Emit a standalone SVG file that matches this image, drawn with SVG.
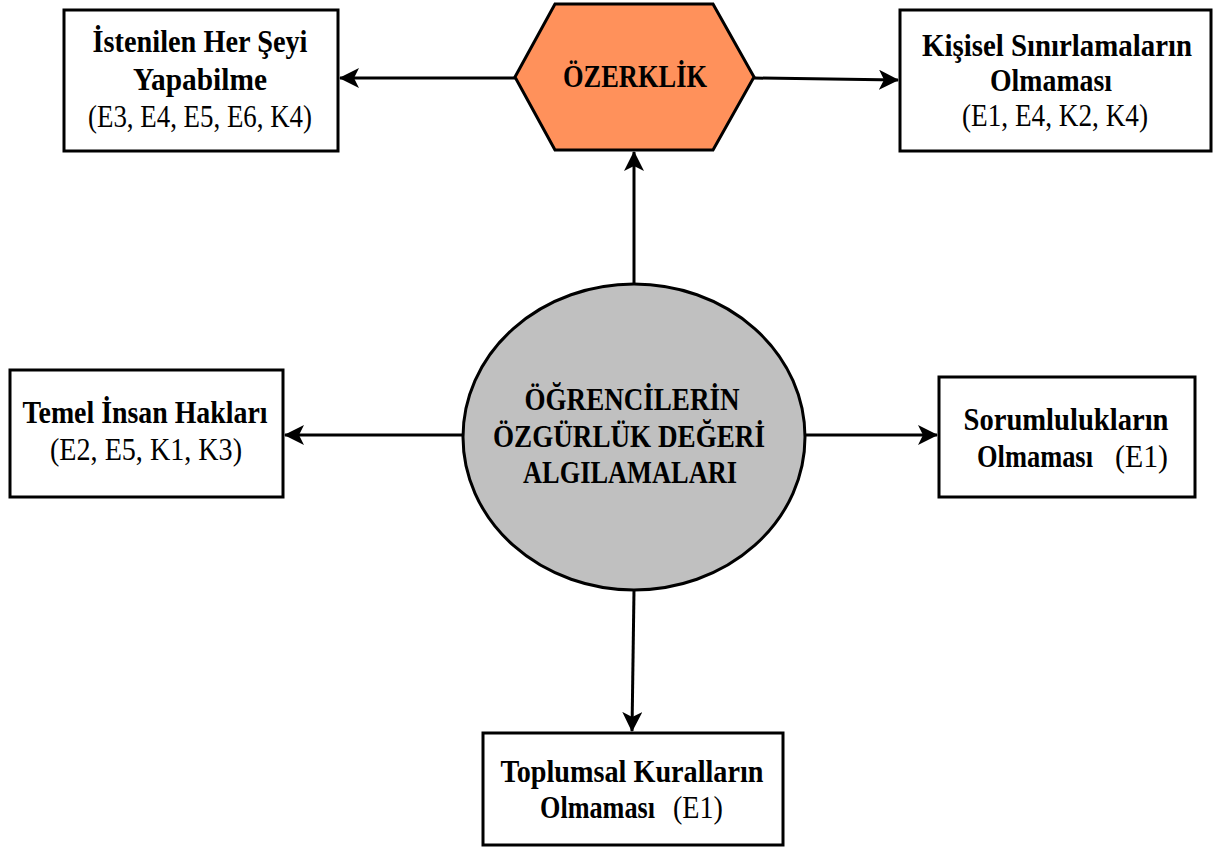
<svg xmlns="http://www.w3.org/2000/svg" width="1213" height="850" viewBox="0 0 1213 850">
<defs>
<style>
.box{fill:#fff;stroke:#000;stroke-width:3}
.t{font-family:"Liberation Serif","Times New Roman",serif;font-size:31px;text-anchor:middle;fill:#000}
.s{text-anchor:start}
.b{font-weight:bold}
.r{font-weight:normal}
.c{fill:none;stroke:#000;stroke-width:3;marker-end:url(#ah)}
</style>
<marker id="ah" viewBox="0 0 20 20" refX="19" refY="10" markerWidth="20" markerHeight="20" markerUnits="userSpaceOnUse" orient="auto">
<path d="M0,0 L20,10 L0,20 L5,10 z" fill="#000"/>
</marker>
</defs>
<rect width="1213" height="850" fill="#fff"/>
<g id="connectors">
<line class="c" x1="515" y1="78" x2="340" y2="78"/>
<line class="c" x1="754" y1="78" x2="898" y2="80"/>
<line class="c" x1="634" y1="284" x2="634" y2="152"/>
<line class="c" x1="463" y1="435" x2="285" y2="435"/>
<line class="c" x1="805" y1="435" x2="937" y2="435"/>
<line class="c" x1="634" y1="590" x2="632" y2="731"/>
</g>
<g id="n-istenilen">
<rect class="box" x="64" y="10" width="274" height="141"/>
<text class="t b" x="200" y="52" textLength="215" lengthAdjust="spacingAndGlyphs">İstenilen Her Şeyi</text>
<text class="t b" x="200" y="90" textLength="134" lengthAdjust="spacingAndGlyphs">Yapabilme</text>
<text class="t r" x="200" y="127" textLength="224" lengthAdjust="spacingAndGlyphs">(E3, E4, E5, E6, K4)</text>
</g>
<g id="n-ozerklik">
<polygon points="515,77 555,4 713,4 754,77 713,150 555,150" fill="#FF915B" stroke="#000" stroke-width="3"/>
<text class="t b" x="635" y="87" textLength="144" lengthAdjust="spacingAndGlyphs">ÖZERKLİK</text>
</g>
<g id="n-kisisel">
<rect class="box" x="900" y="10" width="311" height="141"/>
<text class="t b" x="1057" y="56" textLength="270" lengthAdjust="spacingAndGlyphs">Kişisel Sınırlamaların</text>
<text class="t b" x="1051" y="91" textLength="122" lengthAdjust="spacingAndGlyphs">Olmaması</text>
<text class="t r" x="1055" y="126" textLength="186" lengthAdjust="spacingAndGlyphs">(E1, E4, K2, K4)</text>
</g>
<g id="n-center">
<ellipse cx="634" cy="437" rx="171" ry="153" fill="#C0C0C0" stroke="#000" stroke-width="3"/>
<text class="t b" x="632" y="410" textLength="215" lengthAdjust="spacingAndGlyphs">ÖĞRENCİLERİN</text>
<text class="t b" x="629" y="447" textLength="272" lengthAdjust="spacingAndGlyphs">ÖZGÜRLÜK DEĞERİ</text>
<text class="t b" x="630" y="483" textLength="214" lengthAdjust="spacingAndGlyphs">ALGILAMALARI</text>
</g>
<g id="n-temel">
<rect class="box" x="10" y="370" width="273" height="127"/>
<text class="t b" x="145" y="423" textLength="245" lengthAdjust="spacingAndGlyphs">Temel İnsan Hakları</text>
<text class="t r" x="146" y="460" textLength="192" lengthAdjust="spacingAndGlyphs">(E2, E5, K1, K3)</text>
</g>
<g id="n-sorumluluk">
<rect class="box" x="939" y="377" width="256" height="120"/>
<text class="t b" x="1066" y="430" textLength="205" lengthAdjust="spacingAndGlyphs">Sorumlulukların</text>
<text class="t s b" x="977" y="467" textLength="116" lengthAdjust="spacingAndGlyphs">Olmaması</text>
<text class="t s r" x="1115" y="467" textLength="53" lengthAdjust="spacingAndGlyphs">(E1)</text>
</g>
<g id="n-toplumsal">
<rect class="box" x="483" y="733" width="300" height="112"/>
<text class="t b" x="632" y="782" textLength="263" lengthAdjust="spacingAndGlyphs">Toplumsal Kuralların</text>
<text class="t s b" x="540" y="818" textLength="115" lengthAdjust="spacingAndGlyphs">Olmaması</text>
<text class="t s r" x="673" y="818" textLength="50" lengthAdjust="spacingAndGlyphs">(E1)</text>
</g>
</svg>
